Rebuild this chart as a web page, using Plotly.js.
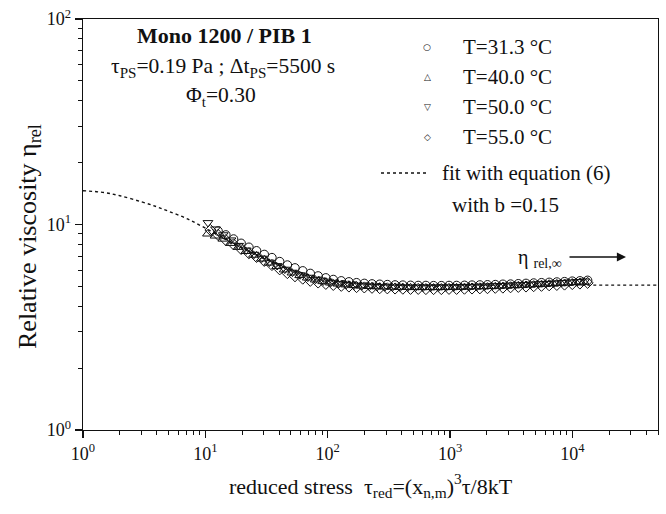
<!DOCTYPE html>
<html>
<head>
<meta charset="utf-8">
<script src="https://cdn.plot.ly/plotly-3.0.1.min.js"></script>
<style>html,body{margin:0;padding:0;background:#fff;}#chart{width:666px;height:514px;}</style>
</head>
<body>
<div id="chart"></div>
<script>
// ---- data ----
const xT31 = [12.7,14.7,17,19.6,22.7,26.2,30.3,35,40.5,46.8,54,62.5,72,83.5,96.5,111,129,149,172,199,230,266,307,355,411,475,549,634,733,848,980,1130,1310,1510,1750,2020,2340,2700,3120,3610,4170,4820,5580,6450,7450,8610,9960,11500,13300];
const yT31 = [9.3,8.9,8.5,8.1,7.75,7.45,7.15,6.9,6.6,6.35,6.15,5.95,5.78,5.62,5.5,5.4,5.32,5.26,5.21,5.17,5.14,5.12,5.1,5.08,5.07,5.06,5.05,5.05,5.04,5.04,5.05,5.05,5.06,5.07,5.08,5.09,5.1,5.12,5.13,5.15,5.17,5.19,5.21,5.23,5.25,5.27,5.3,5.32,5.35];

const xT40 = [10.4,12,13.9,16,18.5,21.4,24.7,28.6,33,38.2,44,51,59,68,79,91,105,121,140,162,187,216,250,289,334,386,446,515,595,688,795,919,1060,1230,1420,1640,1890,2190,2530,2920,3380,3900,4510,5210,6020,6960,8040,9290,10700,12400];
const yT40 = [9.0,8.8,8.5,8.1,7.75,7.4,7.1,6.8,6.5,6.25,6.02,5.82,5.65,5.5,5.38,5.28,5.2,5.14,5.09,5.05,5.02,5.0,4.98,4.97,4.96,4.95,4.95,4.94,4.94,4.94,4.94,4.95,4.95,4.96,4.97,4.98,4.99,5.0,5.02,5.03,5.05,5.07,5.09,5.11,5.13,5.16,5.18,5.2,5.23,5.26];

const xT50 = [10.5,12.1,14,16.2,18.7,21.6,25,28.9,33.4,38.6,44.6,51.5,59.5,68.8,79.5,92,106,123,142,164,190,219,253,293,338,391,452,522,603,697,806,931,1080,1240,1440,1660,1920,2220,2560,2960,3420,3950,4570,5280,6100,7050,8150,9420,10900,12600];
const yT50 = [10.2,9.5,8.9,8.4,7.9,7.5,7.15,6.85,6.55,6.3,6.05,5.85,5.68,5.53,5.4,5.3,5.22,5.15,5.1,5.06,5.03,5.0,4.98,4.97,4.96,4.95,4.95,4.95,4.95,4.95,4.96,4.96,4.97,4.98,4.99,5.0,5.01,5.03,5.04,5.06,5.08,5.1,5.12,5.14,5.16,5.18,5.21,5.24,5.27,5.3];

const xT55 = [11,12.7,14.7,17,19.6,22.7,26.2,30.3,35,40.5,46.8,54,62.5,72,83.5,96.5,111,129,149,172,199,230,266,307,355,411,475,549,634,733,848,980,1130,1310,1510,1750,2020,2340,2700,3120,3610,4170,4820,5580,6450,7450,8610,9960,11500,13300];
const yT55 = [9.4,8.9,8.4,8.0,7.6,7.25,6.95,6.65,6.35,6.05,5.8,5.6,5.45,5.32,5.22,5.14,5.08,5.03,4.99,4.96,4.94,4.92,4.9,4.89,4.88,4.87,4.86,4.86,4.85,4.85,4.85,4.86,4.86,4.87,4.88,4.89,4.9,4.92,4.93,4.95,4.97,4.99,5.01,5.03,5.06,5.08,5.1,5.13,5.16,5.2];

const xFit = [1,1.5,2,3,4,5,7,10,15,20,30,50,70,100,150,200,300,500,1000,2000,5000,10000,20000,50000];
const yFit = [14.6,14.3,13.8,12.9,12.2,11.6,10.7,9.6,8.4,7.7,6.85,6.05,5.7,5.45,5.28,5.2,5.13,5.09,5.07,5.07,5.07,5.07,5.07,5.07];

const seriesNames = ["T=31.3 °C","T=40.0 °C","T=50.0 °C","T=55.0 °C"];
const seriesSymbols = ["circle-open","triangle-up-open","triangle-down-open","diamond-open"];
const legendGlyphs = ["○","△","▽","◇"];
const xTickVals = [1,10,100,1000,10000];
const xTickText = ["10<sup>0</sup>","10<sup>1</sup>","10<sup>2</sup>","10<sup>3</sup>","10<sup>4</sup>"];
const yTickVals = [1,10,100];
const yTickText = ["10<sup>0</sup>","10<sup>1</sup>","10<sup>2</sup>"];

// ---- layout helpers ----
const L = 83, R = 658, T = 19, B = 430, W = 666, H = 514;
const px = x => (x - L) / (R - L);
const py = y => (B - y) / (B - T);
const FONT = "Liberation Serif, Times New Roman, serif";
const INK = "#111";

const minorVals = [];
for (let d = 1; d <= 10000; d *= 10) for (let m = 2; m <= 9; m++) minorVals.push(m * d);

const xs = [xT31, xT40, xT50, xT55];
const ys = [yT31, yT40, yT50, yT55];

const traces = [{
  x: xFit, y: yFit, mode: "lines", type: "scatter", name: "fit",
  line: {color: INK, width: 1.4, dash: "dot", shape: "spline"}, hoverinfo: "skip"
}];
for (let i = 0; i < 4; i++) {
  traces.push({
    x: xs[i], y: ys[i], mode: "markers", type: "scatter", name: seriesNames[i],
    marker: {symbol: seriesSymbols[i], size: 8.5, color: INK, line: {width: 1, color: INK}}
  });
}

function note(x, y, text, size, anchor, family, angle) {
  return {x: px(x), y: py(y), xref: "paper", yref: "paper", xanchor: anchor || "center", yanchor: "middle",
          text: text, showarrow: false, textangle: angle || 0, font: {family: family || FONT, size: size, color: INK}};
}

const annotations = [
  note(224, 36, "<b>Mono 1200 / PIB 1</b>", 22),
  note(223, 68, "τ<sub>PS</sub>=0.19 Pa ; Δt<sub>PS</sub>=5500 s", 21.5),
  note(221, 96, "Φ<sub>t</sub>=0.30", 21.5),
  note(440, 173, "fit with equation (6)", 21, "left"),
  note(450, 205, "with b =0.15", 21, "left"),
  note(516, 258, "η <sub>rel,∞</sub>", 20, "left"),
  note(29, 237, "Relative viscosity η<sub>rel</sub>", 26, "center", FONT, -90),
  {x: px(626), y: py(257), xref: "paper", yref: "paper", ax: -58, ay: 0, text: "", showarrow: true, arrowhead: 2, arrowsize: 1.3, arrowwidth: 1.4, arrowcolor: INK}
];
for (let i = 0; i < 4; i++) {
  const yy = 47 + 30 * i;
  annotations.push(note(427, yy, legendGlyphs[i], 9, "center", "DejaVu Sans"));
  annotations.push(note(461, yy, seriesNames[i], 21, "left"));
}

const layout = {
  width: W, height: H,
  margin: {l: L, r: W - R, t: T, b: H - B, pad: 0},
  paper_bgcolor: "#fff", plot_bgcolor: "#fff",
  showlegend: false,
  font: {family: FONT, size: 17, color: INK},
  xaxis: {
    type: "log", range: [0, Math.log10(50000)], showgrid: false, zeroline: false,
    showline: true, linecolor: INK, linewidth: 1.3, mirror: true,
    ticks: "outside", ticklen: 7, tickwidth: 1.3, tickcolor: INK,
    tickvals: xTickVals, ticktext: xTickText,
    tickfont: {family: FONT, size: 18, color: INK},
    minor: {tickvals: minorVals, ticks: "outside", ticklen: 4, tickwidth: 1, tickcolor: INK, showgrid: false},
    title: {text: "reduced stress  τ<sub>red</sub>=(x<sub>n,m</sub>)<sup>3</sup>τ/8kT", font: {family: FONT, size: 22, color: INK}, standoff: 15}
  },
  yaxis: {
    type: "log", range: [0, 2], showgrid: false, zeroline: false,
    showline: true, linecolor: INK, linewidth: 1.3, mirror: true,
    ticks: "outside", ticklen: 7, tickwidth: 1.3, tickcolor: INK,
    tickvals: yTickVals, ticktext: yTickText,
    tickfont: {family: FONT, size: 18, color: INK},
    minor: {tickvals: minorVals, ticks: "outside", ticklen: 4, tickwidth: 1, tickcolor: INK, showgrid: false}
  },
  shapes: [
    {type: "line", xref: "paper", yref: "paper", x0: px(381), x1: px(429), y0: py(173), y1: py(173), line: {color: INK, width: 1.4, dash: "dot"}}
  ],
  annotations: annotations
};

Plotly.newPlot("chart", traces, layout, {displayModeBar: false, staticPlot: true});
</script>
</body>
</html>
